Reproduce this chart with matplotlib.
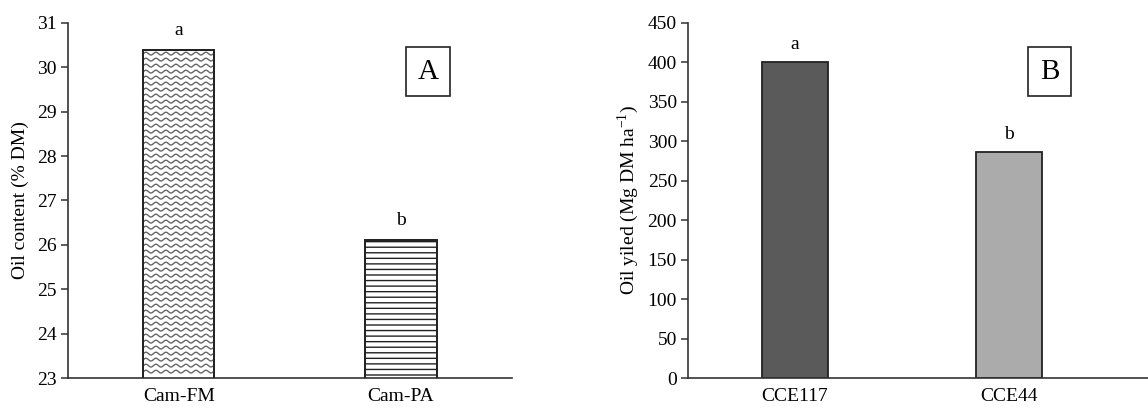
import numpy as np
import matplotlib
matplotlib.use('Agg')
import matplotlib.pyplot as plt

# Panel A data
cam_names = ['Cam-FM', 'Cam-PA']
oil_content = [30.4, 26.1]
cam_letters = ['a', 'b']

# Panel B data
cce_names = ['CCE117', 'CCE44']
oil_yield = [400, 286]
cce_letters = ['a', 'b']
cce_colors = ['#5a5a5a', '#ababab']

plt.rcParams['font.family'] = ['Liberation Serif', 'DejaVu Serif']
plt.rcParams['mathtext.fontset'] = 'custom'
plt.rcParams['mathtext.rm'] = 'Liberation Serif'
plt.rcParams['hatch.color'] = '#666666'
plt.rcParams['hatch.linewidth'] = 1.0

fig = plt.figure(figsize=(11.48, 4.12), dpi=100)
axA = fig.add_axes([0.0592, 0.0825, 0.3868, 0.8617])
axB = fig.add_axes([0.5993, 0.0825, 0.4007, 0.8617])


def style_axis(ax):
    for s in ['top', 'right']:
        ax.spines[s].set_visible(False)
    for s in ['left', 'bottom']:
        ax.spines[s].set_linewidth(1.2)
        ax.spines[s].set_color('#333333')
    ax.tick_params(axis='y', direction='out', length=5, width=1.1, color='#333333',
                   labelsize=14, pad=3)
    ax.tick_params(axis='x', length=0, labelsize=14, pad=7)


# ---- Panel A ----
x = np.arange(len(cam_names))
barsA = axA.bar(x, oil_content, width=0.32, color='white',
                edgecolor='#222222', linewidth=1.3)
axA.set_ylim(23, 31)
axA.set_xlim(-0.5, 1.5)
axA.set_yticks(range(23, 32))
axA.set_xticks(x)
axA.set_xticklabels(cam_names)
axA.set_ylabel('Oil content (% DM)', fontsize=14, labelpad=6)
style_axis(axA)

# wavy fill pattern for first bar, clipped to the bar
px_x = 2.0 / (0.3868 * 1148)   # data units per pixel in x
px_y = 8.0 / (0.8617 * 412)    # data units per pixel in y
b0 = barsA[0]
xs = np.linspace(b0.get_x(), b0.get_x() + b0.get_width(), 200)
phase = (xs - b0.get_x()) / (10 * px_x) * 2 * np.pi
y0 = oil_content[0] - 4 * px_y
while y0 > 23 + 2 * px_y:
    ln, = axA.plot(xs, y0 + 1.4 * px_y * np.sin(phase), color='#666666', lw=1.0,
                   zorder=b0.get_zorder() + 0.1)
    ln.set_clip_path(b0)
    y0 -= 6 * px_y
barsA[1].set_hatch('---')
# outlines on top of the pattern
for b in barsA:
    axA.add_patch(plt.Rectangle((b.get_x(), b.get_y()), b.get_width(), b.get_height(),
                                fill=False, edgecolor='#222222', lw=1.3, zorder=3))

for xi, v, lt in zip(x, oil_content, cam_letters):
    axA.annotate(lt, (xi, v), xytext=(0, 8), textcoords='offset points',
                 ha='center', va='bottom', fontsize=14)
axA.text(0.811, 0.863, 'A', transform=axA.transAxes, fontsize=21, ha='center', va='center',
         bbox=dict(boxstyle='square,pad=0.4', facecolor='white', edgecolor='#222222', lw=1.2))

# ---- Panel B ----
x = np.arange(len(cce_names))
axB.bar(x, oil_yield, width=0.31, color=cce_colors, edgecolor='#222222', linewidth=1.3)
axB.set_ylim(0, 450)
axB.set_xlim(-0.5, 1.65)
axB.set_yticks(range(0, 451, 50))
axB.set_xticks(x)
axB.set_xticklabels(cce_names)
axB.set_ylabel(r'Oil yiled (Mg DM ha$^{\mathregular{-1}}$)', fontsize=14, labelpad=5)
style_axis(axB)
for xi, v, lt in zip(x, oil_yield, cce_letters):
    axB.annotate(lt, (xi, v), xytext=(0, 7), textcoords='offset points',
                 ha='center', va='bottom', fontsize=14)
axB.text(0.786, 0.863, 'B', transform=axB.transAxes, fontsize=21, ha='center', va='center',
         bbox=dict(boxstyle='square,pad=0.4', facecolor='white', edgecolor='#222222', lw=1.2))

fig.savefig('out.png', dpi=100)
